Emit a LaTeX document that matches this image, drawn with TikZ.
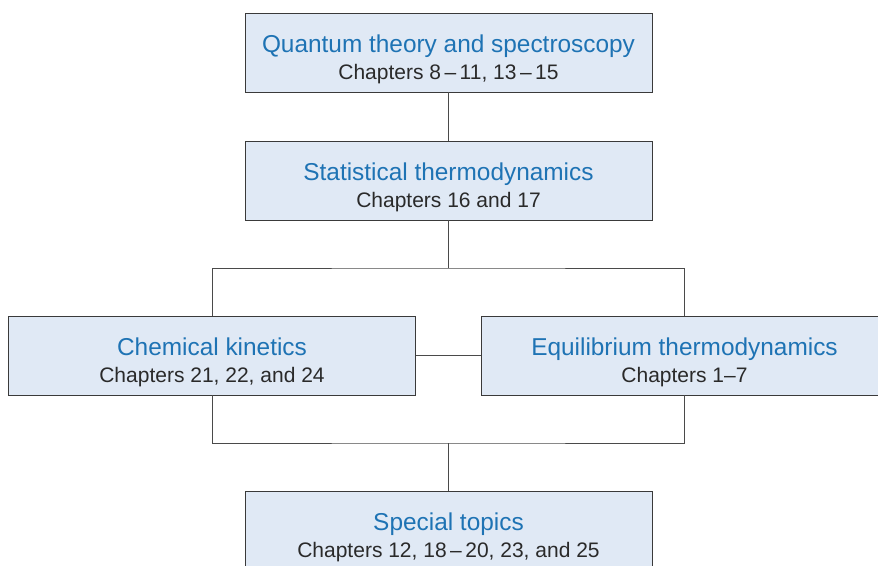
\documentclass[tikz,border=0pt]{standalone}
\usepackage{fontspec}
\setmainfont{Liberation Sans}
\usepackage{tikz}
\usetikzlibrary{positioning}
\definecolor{boxfill}{HTML}{E0E9F5}
\definecolor{boxline}{HTML}{3A3A3A}
\definecolor{headblue}{HTML}{1E73B4}
\definecolor{bodytext}{HTML}{2A2A2A}
\definecolor{wire}{HTML}{4A4A4A}
\newcommand{\topichead}[1]{\rule{0pt}{31pt}{\fontsize{24.4}{28}\selectfont\color{headblue}#1}}
\begin{document}
\begin{tikzpicture}[x=1pt, y=-1pt,
    topic/.style={draw=boxline, line width=0.9pt, fill=boxfill, minimum width=407pt, minimum height=79pt, align=center, inner sep=0pt, text=bodytext, font=\fontsize{21}{27.5}\selectfont},
    wirestyle/.style={draw=wire, line width=0.9pt}]
  \useasboundingbox (0,0) rectangle (878,565);
  \clip (0,0) rectangle (878,565);
  \fill[white] (0,0) rectangle (878,565);
  \node[topic] (qt) at (448.5,52.5) {\topichead{Quantum theory and spectroscopy}\\Chapters 8\,--\,11, 13\,--\,15};
  \node[topic] (st) at (448.5,180.5) {\topichead{Statistical thermodynamics}\\Chapters 16 and 17};
  \node[topic] (ck) at (212,355.5) {\topichead{Chemical kinetics}\\Chapters 21, 22, and 24};
  \node[topic] (eq) at (684.5,355.5) {\topichead{Equilibrium thermodynamics}\\Chapters 1--7};
  \node[topic] (sp) at (448.5,530.5) {\topichead{Special topics}\\Chapters 12, 18\,--\,20, 23, and 25};
  \coordinate (split) at (448.5,268);
  \coordinate (merge) at (448.5,443);
  % connectors
  \draw[wirestyle] (qt) -- (st);
  \draw[wirestyle] (st) -- (split);
  \draw[wirestyle] (ck.north) |- (split) -| (eq.north);
  \draw[wirestyle] (ck) -- (eq);
  \draw[wirestyle] (ck.south) |- (merge) -| (eq.south);
  \draw[wirestyle] (merge) -- (sp);
\end{tikzpicture}
\end{document}
